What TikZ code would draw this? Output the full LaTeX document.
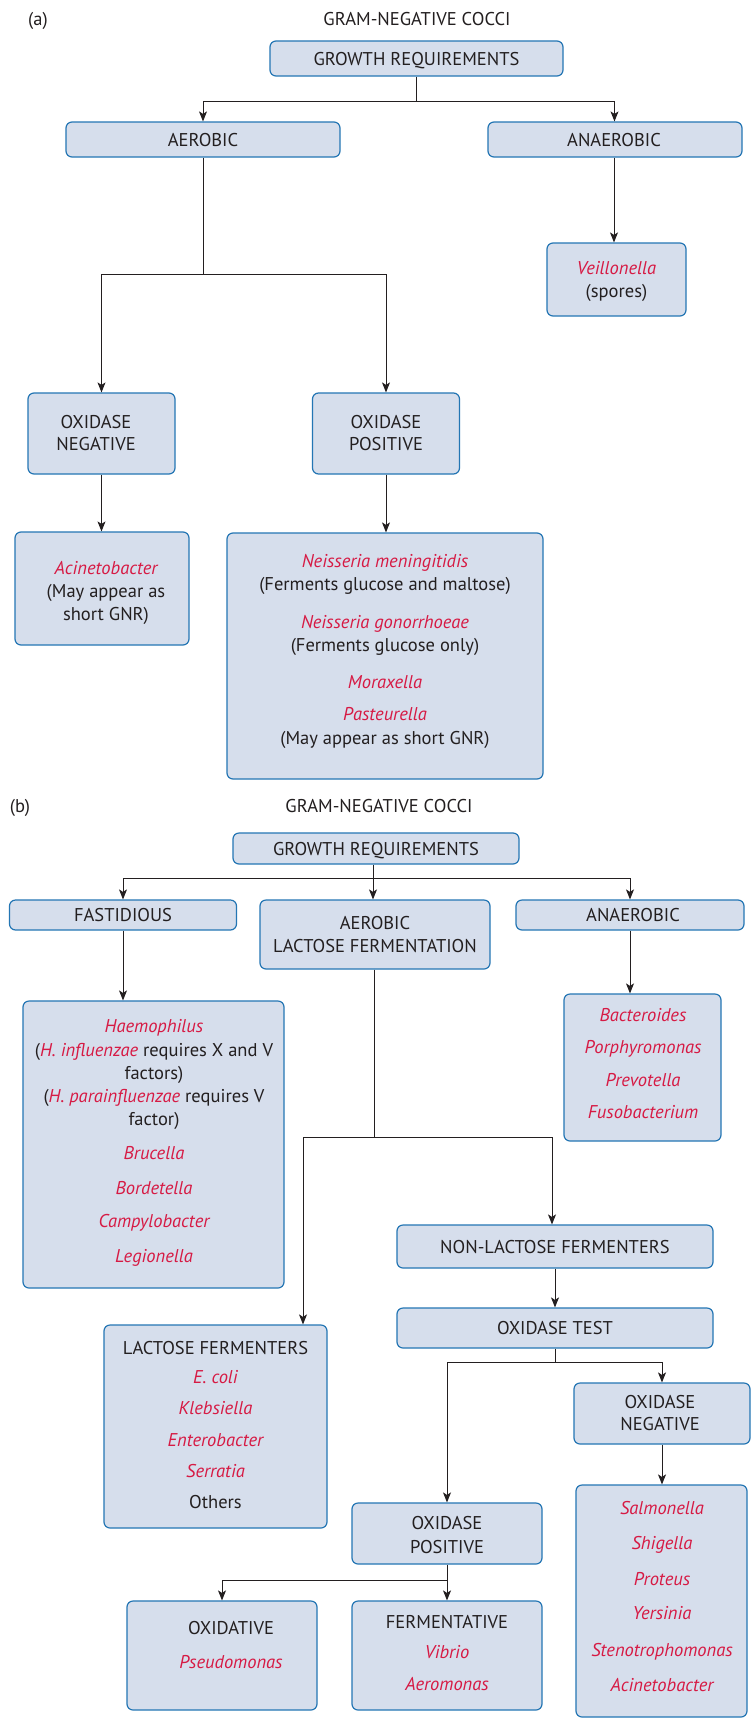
\documentclass[tikz,border=0pt]{standalone}
\usepackage{fontspec}
\setmainfont{PT Sans}
\usetikzlibrary{arrows.meta}

\definecolor{boxfill}{HTML}{D6DEEC}
\definecolor{boxline}{HTML}{2476B4}
\definecolor{species}{HTML}{D61A44}
\definecolor{ink}{HTML}{231F20}

\newcommand\orgname[1]{\textcolor{species}{\itshape #1}}
\newcommand\chartfont{\fontsize{18.5}{22}\selectfont}

\tikzset{
  box/.style={draw=boxline, fill=boxfill, line width=1.2pt, rounded corners=6pt, inner sep=0pt},
  txt/.style={anchor=base, inner sep=0pt, text=ink, font=\chartfont},
  org/.style={txt, text=species, font=\chartfont\itshape},
  link/.style={draw=ink, line width=1pt},
  arr/.style={link, -{Stealth[length=10pt, width=8pt, inset=2.5pt]}},
}

\begin{document}
\begin{tikzpicture}[x=1pt, y=-1pt]
\fill[white] (0,0) rectangle (752,1719);
\useasboundingbox (0,0) rectangle (752,1719);

% ---------------- (a) ----------------
\node[txt] (labA) at (38,25) {(a)};
\node[txt] (titleA) at (417,25.5) {GRAM-NEGATIVE COCCI};

\node[box, minimum width=293pt, minimum height=35pt] (grA) at (416.5,58.5) {};
\node[txt] (grAt) at (416.5,65) {GROWTH REQUIREMENTS};

\node[box, minimum width=274pt, minimum height=35pt] (aerA) at (203,139.5) {};
\node[txt] (aerAt) at (203,146) {AEROBIC};

\node[box, minimum width=254pt, minimum height=35pt] (anaA) at (615,139.5) {};
\node[txt] (anaAt) at (614,146) {ANAEROBIC};

\node[box, minimum width=139pt, minimum height=73pt] (veil) at (616.5,279.5) {};
\node[org] (veilA) at (616.5,274.5) {Veillonella};
\node[txt] (veilB) at (616.5,297.5) {(spores)};

\node[box, minimum width=147pt, minimum height=81pt] (onA) at (101.5,433.5) {};
\node[txt] (onA1) at (96,428.5) {OXIDASE};
\node[txt] (onA2) at (96,450.5) {NEGATIVE};

\node[box, minimum width=147pt, minimum height=81pt] (opA) at (386,433.5) {};
\node[txt] (opA1) at (386,428.5) {OXIDASE};
\node[txt] (opA2) at (386,450.5) {POSITIVE};

\node[box, minimum width=174pt, minimum height=113pt] (acin) at (102,588.5) {};
\node[org] (acin1) at (106,574.5) {Acinetobacter};
\node[txt] (acin2) at (106,597.5) {(May appear as};
\node[txt] (acin3) at (106,620.5) {short GNR)};

\node[box, minimum width=316pt, minimum height=246pt] (neis) at (385,656) {};
\node[org] (neis1) at (385,567.5) {Neisseria meningitidis};
\node[txt] (neis2) at (385,590.5) {(Ferments glucose and maltose)};
\node[org] (neis3) at (385,628.5) {Neisseria gonorrhoeae};
\node[txt] (neis4) at (385,651.5) {(Ferments glucose only)};
\node[org] (neis5) at (385,688.5) {Moraxella};
\node[org] (neis6) at (385,720.5) {Pasteurella};
\node[txt] (neis7) at (385,744.5) {(May appear as short GNR)};

\coordinate (jA) at (416.5,101);
\draw[link] (grA.south) -- (jA);
\draw[arr] (jA) -| (aerA.north);
\draw[arr] (jA) -| ([xshift=-0.5pt]anaA.north);
\draw[arr] ([xshift=-1pt]anaA.south) -- ([xshift=-1pt]anaA.south |- veil.north);

\coordinate (jB) at (203,274);
\draw[link] (aerA.south) -- (jB);
\draw[arr] (jB) -| (onA.north);
\draw[arr] (jB) -| (opA.north);
\draw[arr] (onA.south) -- (onA.south |- acin.north);
\draw[arr] (opA.south) -- (opA.south |- neis.north);

% ---------------- (b) ----------------
\node[txt] (labB) at (20,812.5) {(b)};
\node[txt] (titleB) at (379,812.5) {GRAM-NEGATIVE COCCI};

\node[box, minimum width=286pt, minimum height=31pt] (grB) at (376,848.5) {};
\node[txt] (grBt) at (376,855) {GROWTH REQUIREMENTS};

\node[box, minimum width=227pt, minimum height=30pt] (fast) at (123,915) {};
\node[txt] (fastt) at (123,921.5) {FASTIDIOUS};

\node[box, minimum width=230pt, minimum height=69pt] (alf) at (375,934.5) {};
\node[txt] (alf1) at (375,929.5) {AEROBIC};
\node[txt] (alf2) at (375,952.5) {LACTOSE FERMENTATION};

\node[box, minimum width=228pt, minimum height=30pt] (anaB) at (630,915) {};
\node[txt] (anaBt) at (633,921.5) {ANAEROBIC};

\node[box, minimum width=261pt, minimum height=287pt] (haem) at (153.5,1144.5) {};
\node[org] (haem1) at (154,1032.5) {Haemophilus};
\node[txt] (haem2) at (154,1056.5) {(\orgname{H. influenzae} requires X and V};
\node[txt] (haem3) at (154,1079.5) {factors)};
\node[txt] (haem4) at (154,1102.5) {(\orgname{H. parainfluenzae} requires V};
\node[txt] (haem5) at (154,1125.5) {factor)};
\node[org] (haem6) at (154,1159.5) {Brucella};
\node[org] (haem7) at (154,1194.5) {Bordetella};
\node[org] (haem8) at (154,1227.5) {Campylobacter};
\node[org] (haem9) at (154,1262.5) {Legionella};

\node[box, minimum width=157pt, minimum height=147pt] (bact) at (642.5,1067.5) {};
\node[org] (bact1) at (643,1021.5) {Bacteroides};
\node[org] (bact2) at (643,1053.5) {Porphyromonas};
\node[org] (bact3) at (643,1086.5) {Prevotella};
\node[org] (bact4) at (643,1118.5) {Fusobacterium};

\node[box, minimum width=223pt, minimum height=203pt] (lf) at (215.5,1426.5) {};
\node[txt] (lf1) at (215.5,1354.5) {LACTOSE FERMENTERS};
\node[org] (lf2) at (215.5,1383.5) {E. coli};
\node[org] (lf3) at (215.5,1414.5) {Klebsiella};
\node[org] (lf4) at (215.5,1446.5) {Enterobacter};
\node[org] (lf5) at (215.5,1477.5) {Serratia};
\node[txt] (lf6) at (215.5,1508.5) {Others};

\node[box, minimum width=316pt, minimum height=43pt] (nlf) at (555,1246.5) {};
\node[txt] (nlft) at (555,1253) {NON-LACTOSE FERMENTERS};

\node[box, minimum width=316pt, minimum height=40pt] (ot) at (555,1328) {};
\node[txt] (ott) at (555,1334) {OXIDASE TEST};

\node[box, minimum width=176pt, minimum height=61pt] (onB) at (662,1413.5) {};
\node[txt] (onB1) at (660,1408.5) {OXIDASE};
\node[txt] (onB2) at (660,1430.5) {NEGATIVE};

\node[box, minimum width=190pt, minimum height=61pt] (opB) at (447,1533.5) {};
\node[txt] (opB1) at (447,1529.5) {OXIDASE};
\node[txt] (opB2) at (447,1553.5) {POSITIVE};

\node[box, minimum width=171pt, minimum height=232pt] (sal) at (661.5,1601) {};
\node[org] (sal1) at (662,1514.5) {Salmonella};
\node[org] (sal2) at (662,1549.5) {Shigella};
\node[org] (sal3) at (662,1585.5) {Proteus};
\node[org] (sal4) at (662,1619.5) {Yersinia};
\node[org] (sal5) at (662,1656.5) {Stenotrophomonas};
\node[org] (sal6) at (662,1691.5) {Acinetobacter};

\node[box, minimum width=190pt, minimum height=109pt] (oxv) at (222,1655.5) {};
\node[txt] (oxv1) at (231,1634.5) {OXIDATIVE};
\node[org] (oxv2) at (231,1668.5) {Pseudomonas};

\node[box, minimum width=190pt, minimum height=109pt] (ferm) at (447,1655.5) {};
\node[txt] (ferm1) at (447,1628.5) {FERMENTATIVE};
\node[org] (ferm2) at (447,1658.5) {Vibrio};
\node[org] (ferm3) at (447,1690.5) {Aeromonas};

% connectors of (b)
\coordinate (jC) at (373,878);
\draw[link] (jC |- grB.south) -- (jC);
\draw[arr] (jC) -| (fast.north);
\draw[arr] (jC) -- (jC |- alf.north);
\draw[arr] (jC) -| (anaB.north);
\draw[arr] (fast.south) -- (fast.south |- haem.north);
\draw[arr] (anaB.south) -- (anaB.south |- bact.north);

\coordinate (jD) at (374,1137);
\coordinate (jDl) at (303,1137);
\coordinate (jDr) at (552,1137);
\draw[link] (jD |- alf.south) -- (jD);
\draw[arr] (jD) -- (jDl) -- (jDl |- lf.north);
\draw[arr] (jD) -- (jDr) -- (jDr |- nlf.north);
\draw[arr] (nlf.south) -- (ot.north);

\coordinate (jE) at (555,1362);
\draw[link] (ot.south) -- (jE);
\draw[arr] (jE) -| (onB.north);
\draw[arr] (jE) -| (opB.north);
\draw[arr] (onB.south) -- (onB.south |- sal.north);

\coordinate (jF) at (447,1580);
\draw[arr] (opB.south) -- (ferm.north);
\draw[arr] (jF) -| (oxv.north);
\end{tikzpicture}
\end{document}
